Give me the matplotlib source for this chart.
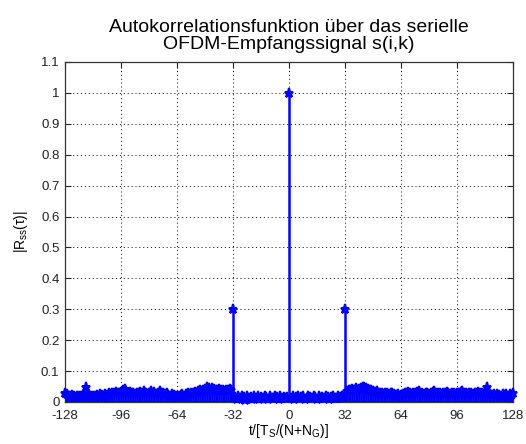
import numpy as np
import matplotlib
matplotlib.use("Agg")
import matplotlib.pyplot as plt

plt.rcParams['font.family'] = ['Liberation Sans', 'DejaVu Sans']
plt.rcParams['mathtext.fontset'] = 'custom'
plt.rcParams['mathtext.rm'] = 'Liberation Sans'
plt.rcParams['mathtext.it'] = 'Liberation Sans'
plt.rcParams['mathtext.sf'] = 'Liberation Sans'

# lag axis in units of T_S/(N+N_G)
lags = np.arange(-128, 129)

# |R_ss(tau)| sampled at each lag
acf_left = [
    0.030, 0.025, 0.020, 0.018, 0.022, 0.020, 0.015, 0.020,
    0.018, 0.020, 0.022, 0.025, 0.050, 0.028, 0.020, 0.018,
    0.020, 0.018, 0.022, 0.020, 0.025, 0.022, 0.020, 0.025,
    0.022, 0.028, 0.025, 0.030, 0.028, 0.032, 0.030, 0.028,
    0.032, 0.038, 0.042, 0.035, 0.030, 0.033, 0.028, 0.030,
    0.025, 0.030, 0.028, 0.032, 0.030, 0.035, 0.030, 0.025,
    0.028, 0.035, 0.030, 0.032, 0.025, 0.030, 0.035, 0.030,
    0.028, 0.025, 0.030, 0.022, 0.020, 0.025, 0.022, 0.020,
    0.018, 0.020, 0.022, 0.025, 0.020, 0.025, 0.028, 0.025,
    0.030, 0.028, 0.032, 0.030, 0.035, 0.038, 0.035, 0.040,
    0.042, 0.048, 0.045, 0.040, 0.045, 0.042, 0.038, 0.040,
    0.042, 0.038, 0.040, 0.035, 0.040, 0.038, 0.042, 0.040,
]
acf_guard_left = [0.300]
acf_inner_left = [
    0.015, 0.010, 0.018, 0.012, 0.020, 0.015, 0.008, 0.018,
    0.012, 0.016, 0.010, 0.020, 0.014, 0.018, 0.010, 0.015,
    0.012, 0.020, 0.016, 0.010, 0.018, 0.014, 0.012, 0.020,
    0.015, 0.010, 0.018, 0.013, 0.016, 0.012, 0.015,
]
acf_zero = [1.000]
acf_inner_right = [
    0.014, 0.018, 0.010, 0.016, 0.020, 0.012, 0.015, 0.018,
    0.010, 0.014, 0.020, 0.016, 0.012, 0.018, 0.015, 0.010,
    0.020, 0.013, 0.017, 0.012, 0.018, 0.015, 0.010, 0.016,
    0.020, 0.014, 0.012, 0.018, 0.015, 0.020, 0.016,
]
acf_guard_right = [0.300]
acf_right = [
    0.035, 0.040, 0.038, 0.042, 0.040, 0.045, 0.040, 0.042,
    0.045, 0.048, 0.050, 0.045, 0.042, 0.040, 0.038, 0.035,
    0.032, 0.035, 0.030, 0.028, 0.030, 0.025, 0.028, 0.030,
    0.025, 0.030, 0.028, 0.025, 0.022, 0.025, 0.020, 0.022,
    0.025, 0.030, 0.028, 0.032, 0.030, 0.025, 0.028, 0.030,
    0.032, 0.035, 0.030, 0.028, 0.025, 0.030, 0.028, 0.025,
    0.030, 0.032, 0.035, 0.030, 0.028, 0.030, 0.025, 0.028,
    0.030, 0.032, 0.028, 0.025, 0.030, 0.028, 0.025, 0.030,
    0.028, 0.032, 0.035, 0.030, 0.028, 0.025, 0.030, 0.028,
    0.025, 0.030, 0.028, 0.032, 0.030, 0.028, 0.025, 0.030,
    0.050, 0.030, 0.025, 0.022, 0.025, 0.020, 0.025, 0.022,
    0.020, 0.025, 0.022, 0.025, 0.020, 0.025, 0.022, 0.030,
]
acf = np.array(acf_left + acf_guard_left + acf_inner_left + acf_zero
               + acf_inner_right + acf_guard_right + acf_right)

x_ticks = [-128, -96, -64, -32, 0, 32, 64, 96, 128]
y_ticks = np.round(np.arange(0, 1.11, 0.1), 1)
y_tick_labels = ['0', '0.1', '0.2', '0.3', '0.4', '0.5', '0.6', '0.7',
                 '0.8', '0.9', '1', '1.1']

fig = plt.figure(figsize=(5.26, 4.44), dpi=100)
ax = fig.add_axes([0.1236, 0.0946, 0.8517, 0.7658])

blue = (0, 0, 1)
ax.vlines(lags, 0, acf, color=blue, linewidth=1.8, zorder=3)
ax.plot(lags, acf, linestyle='none', marker='*', markersize=6.5,
        markeredgewidth=1.5, color=blue, clip_on=False, zorder=4)
ax.axhline(0, color=blue, linewidth=2.0, zorder=3)

ax.set_xlim(-128, 128)
ax.set_ylim(0, 1.1)
ax.set_xticks(x_ticks)
ax.set_xticklabels([str(t) for t in x_ticks])
ax.set_yticks(y_ticks)
ax.set_yticklabels(y_tick_labels)

ax.grid(True, color='black', linestyle=(0, (1, 3)), linewidth=0.7)
ax.set_axisbelow(True)
ax.tick_params(direction='in', top=True, right=True, length=4,
               width=0.8, labelsize=9.5, colors='#222222')
ax.tick_params(axis='x', pad=6)
ax.tick_params(axis='y', pad=4)
for s in ax.spines.values():
    s.set_color('#333333')
    s.set_linewidth(0.9)

ax.set_title('Autokorrelationsfunktion über das serielle\nOFDM-Empfangssignal s(i,k)',
             fontsize=14, pad=9, linespacing=1.05)
ax.set_xlabel(r'$\mathrm{t/[T_S/(N}$+$\mathrm{N_G)]}$', fontsize=10, labelpad=0)
ax.set_ylabel(r'$\mathrm{|R_{ss}(\tau)|}$', fontsize=10, labelpad=8)

fig.savefig('out.png', dpi=100)
